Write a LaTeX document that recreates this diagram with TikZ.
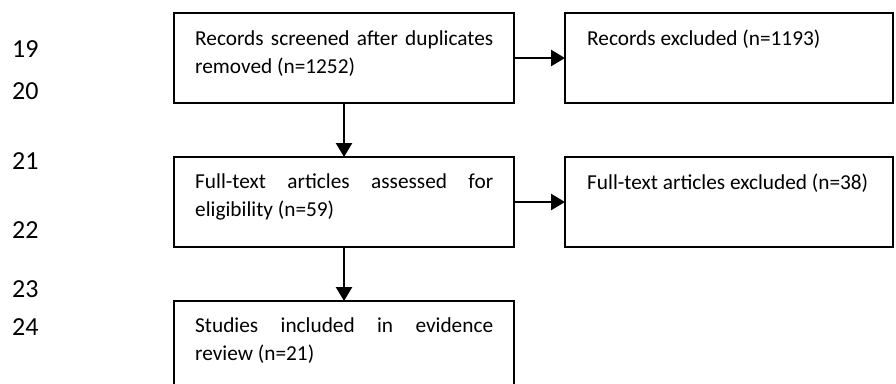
\documentclass[tikz,border=0pt]{standalone}
\usepackage{fontspec}
\setmainfont{Carlito}
\usetikzlibrary{arrows.meta,positioning,calc}
\newcommand\tstrut{\rule{0pt}{20pt}}
\tikzset{
  box/.style={draw=black, line width=1.8pt, rectangle, inner sep=0pt},
  txt/.style={anchor=north west, inner sep=0pt, text width=298pt, align=justify,
    font=\fontsize{21.3}{28.5}\selectfont},
  rtxt/.style={anchor=north west, inner sep=0pt, align=left,
    font=\fontsize{21.3}{28.5}\selectfont},
  lnum/.style={anchor=base west, inner sep=0pt, font=\fontsize{26}{30}\selectfont},
  flow/.style={line width=2.5pt, -{Triangle[length=14pt,width=16pt]}}
}
\begin{document}
\begin{tikzpicture}[x=1pt,y=-1pt]
\clip (0,0) rectangle (896,383);
\fill[white] (0,0) rectangle (896,383);
% boxes
\draw[box] (174,13) rectangle (514,103);
\coordinate (b1e) at (514,58); \coordinate (b1s) at (344,103);
\draw[box] (565,13) rectangle (893,103);
\coordinate (b2w) at (565,58);
\draw[box] (174,157) rectangle (514,247);
\coordinate (b3n) at (344,157); \coordinate (b3e) at (514,202); \coordinate (b3s) at (344,247);
\draw[box] (565,157) rectangle (893,247);
\coordinate (b4w) at (565,202);
\draw[box] (174,301) rectangle (514,420);
\coordinate (b5n) at (344,301);
% texts
\node[txt] (t1) at (195,25) {\tstrut Records screened after duplicates\linebreak removed (n=1252)};
\node[rtxt] (t2) at (587,25) {\tstrut Records excluded (n=1193)};
\node[txt] (t3) at (195,168) {\tstrut Full-text articles assessed for\linebreak eligibility (n=59)};
\node[rtxt] (t4) at (587,169) {\tstrut Full-text articles excluded (n=38)};
\node[txt] (t5) at (195,312) {\tstrut Studies included in evidence\linebreak review (n=21)};
% connectors
\draw[flow] (b1e) -- (b2w);
\draw[flow] (b1s) -- (b3n);
\draw[flow] (b3e) -- (b4w);
\draw[flow] (b3s) -- (b5n);
% line numbers
\node[lnum] (n19) at (12,57) {19};
\node[lnum] (n20) at (12,99) {20};
\node[lnum] (n21) at (12,169) {21};
\node[lnum] (n22) at (12,238) {22};
\node[lnum] (n23) at (12,297) {23};
\node[lnum] (n24) at (12,335) {24};
\end{tikzpicture}
\end{document}
